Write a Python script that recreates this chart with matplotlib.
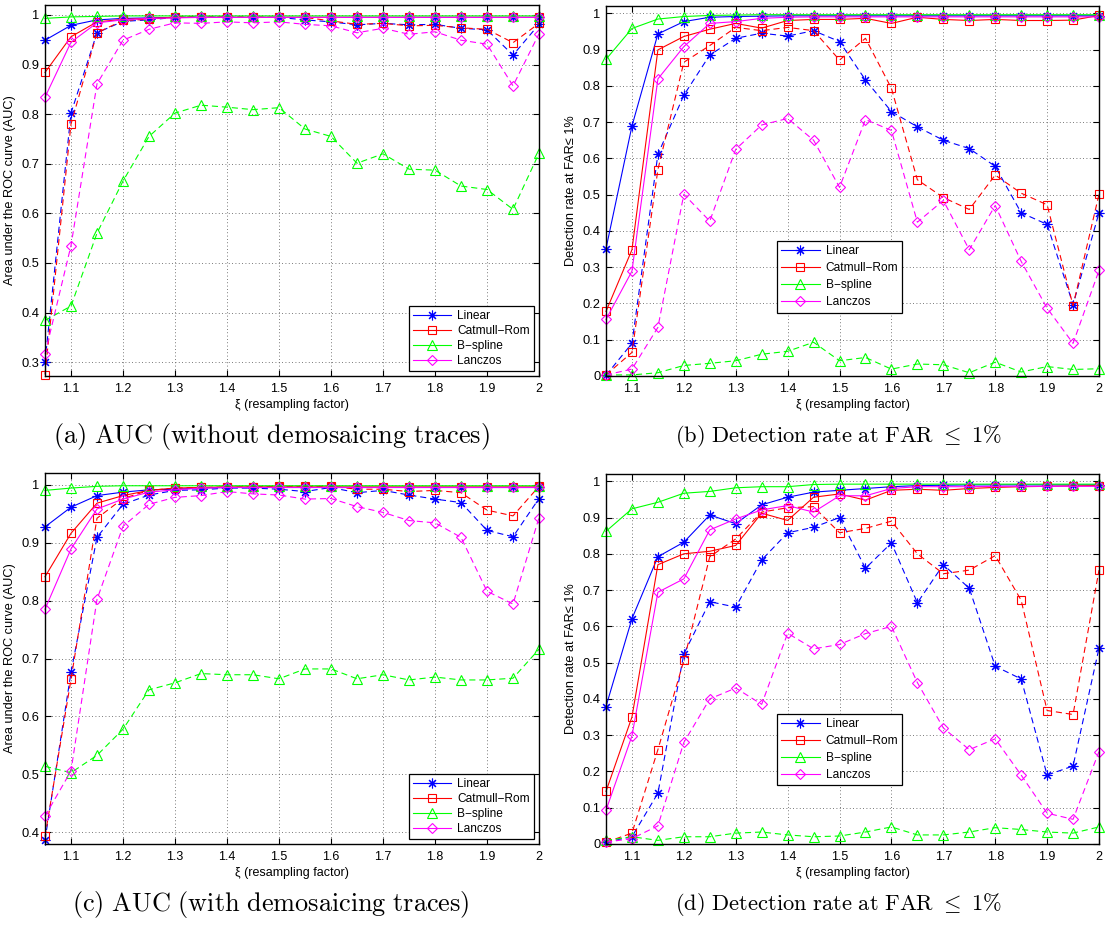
import matplotlib
matplotlib.use("Agg")
import matplotlib.pyplot as plt
from matplotlib.lines import Line2D

plt.rcParams['font.family'] = ['Liberation Sans', 'DejaVu Sans']
plt.rcParams['mathtext.fontset'] = 'cm'

# resampling factors
xi = [1.05, 1.10, 1.15, 1.20, 1.25, 1.30, 1.35, 1.40, 1.45, 1.50,
      1.55, 1.60, 1.65, 1.70, 1.75, 1.80, 1.85, 1.90, 1.95, 2.00]

methods = ['Linear', 'Catmull\u2212Rom', 'B\u2212spline', 'Lanczos']

# (a) AUC, without demosaicing traces -- solid / dashed series
a_linear = [0.949, 0.979, 0.990, 0.993, 0.994, 0.995, 0.995, 0.995, 0.995, 0.995,
            0.995, 0.995, 0.995, 0.995, 0.995, 0.995, 0.995, 0.995, 0.995, 0.995]
a_catmull = [0.884, 0.956, 0.986, 0.991, 0.993, 0.995, 0.995, 0.995, 0.995, 0.995,
             0.995, 0.995, 0.995, 0.995, 0.995, 0.995, 0.995, 0.995, 0.995, 0.995]
a_bspline = [0.993, 0.996, 0.997, 0.998, 0.998, 0.998, 0.998, 0.998, 0.998, 0.998,
             0.998, 0.998, 0.998, 0.998, 0.998, 0.998, 0.998, 0.998, 0.998, 0.998]
a_lanczos = [0.834, 0.945, 0.984, 0.990, 0.993, 0.994, 0.995, 0.995, 0.995, 0.995,
             0.995, 0.995, 0.995, 0.995, 0.995, 0.995, 0.995, 0.995, 0.995, 0.995]
a_linear_d = [0.300, 0.802, 0.964, 0.987, 0.990, 0.995, 0.996, 0.995, 0.995, 0.995,
              0.990, 0.986, 0.980, 0.983, 0.980, 0.981, 0.973, 0.970, 0.919, 0.981]
a_catmull_d = [0.275, 0.780, 0.964, 0.989, 0.991, 0.996, 0.996, 0.996, 0.996, 0.995,
               0.995, 0.988, 0.981, 0.983, 0.978, 0.979, 0.974, 0.971, 0.944, 0.983]
a_bspline_d = [0.384, 0.413, 0.560, 0.665, 0.755, 0.802, 0.818, 0.814, 0.809, 0.813,
               0.770, 0.755, 0.701, 0.720, 0.689, 0.687, 0.655, 0.648, 0.608, 0.721]
a_lanczos_d = [0.316, 0.535, 0.861, 0.949, 0.971, 0.984, 0.983, 0.986, 0.984, 0.986,
               0.981, 0.978, 0.964, 0.973, 0.961, 0.966, 0.949, 0.941, 0.857, 0.962]

# (b) detection rate at FAR <= 1 %, without demosaicing traces
b_linear = [0.351, 0.689, 0.943, 0.977, 0.989, 0.991, 0.992, 0.993, 0.993, 0.993,
            0.993, 0.993, 0.993, 0.993, 0.993, 0.993, 0.993, 0.993, 0.993, 0.993]
b_catmull = [0.178, 0.348, 0.899, 0.936, 0.956, 0.972, 0.959, 0.980, 0.983, 0.983,
             0.986, 0.972, 0.989, 0.983, 0.980, 0.983, 0.980, 0.980, 0.981, 0.994]
b_bspline = [0.873, 0.958, 0.984, 0.991, 0.994, 0.995, 0.996, 0.996, 0.996, 0.996,
             0.996, 0.996, 0.996, 0.996, 0.996, 0.996, 0.996, 0.996, 0.996, 0.996]
b_lanczos = [0.156, 0.289, 0.819, 0.908, 0.972, 0.977, 0.986, 0.989, 0.990, 0.990,
             0.990, 0.990, 0.990, 0.990, 0.990, 0.990, 0.990, 0.990, 0.990, 0.990]
b_linear_d = [0.002, 0.090, 0.611, 0.774, 0.885, 0.931, 0.945, 0.937, 0.952, 0.922,
              0.816, 0.729, 0.687, 0.650, 0.627, 0.578, 0.450, 0.418, 0.197, 0.450]
b_catmull_d = [0.003, 0.065, 0.569, 0.865, 0.911, 0.961, 0.952, 0.961, 0.952, 0.871,
               0.931, 0.793, 0.541, 0.492, 0.459, 0.554, 0.504, 0.472, 0.194, 0.501]
b_bspline_d = [0.003, 0.003, 0.009, 0.029, 0.035, 0.042, 0.060, 0.068, 0.093, 0.042,
               0.051, 0.019, 0.033, 0.031, 0.009, 0.038, 0.011, 0.026, 0.018, 0.020]
b_lanczos_d = [0.003, 0.019, 0.134, 0.501, 0.427, 0.625, 0.692, 0.710, 0.650, 0.520,
               0.707, 0.677, 0.424, 0.484, 0.348, 0.470, 0.316, 0.187, 0.090, 0.291]

# (c) AUC, with demosaicing traces
c_linear = [0.927, 0.961, 0.981, 0.987, 0.991, 0.992, 0.994, 0.995, 0.995, 0.995,
            0.995, 0.995, 0.995, 0.995, 0.995, 0.995, 0.995, 0.995, 0.995, 0.995]
c_catmull = [0.841, 0.916, 0.968, 0.981, 0.990, 0.994, 0.995, 0.996, 0.996, 0.996,
             0.996, 0.996, 0.996, 0.996, 0.996, 0.996, 0.996, 0.996, 0.996, 0.996]
c_bspline = [0.990, 0.994, 0.997, 0.998, 0.998, 0.998, 0.998, 0.998, 0.998, 0.998,
             0.998, 0.998, 0.998, 0.998, 0.998, 0.998, 0.998, 0.998, 0.998, 0.998]
c_lanczos = [0.785, 0.889, 0.958, 0.975, 0.987, 0.991, 0.994, 0.995, 0.995, 0.995,
             0.995, 0.995, 0.995, 0.995, 0.995, 0.995, 0.995, 0.995, 0.995, 0.995]
c_linear_d = [0.387, 0.676, 0.909, 0.966, 0.982, 0.990, 0.991, 0.994, 0.994, 0.992,
              0.988, 0.995, 0.986, 0.990, 0.982, 0.975, 0.969, 0.921, 0.910, 0.976]
c_catmull_d = [0.393, 0.664, 0.942, 0.976, 0.990, 0.994, 0.995, 0.996, 0.996, 0.997,
               0.997, 0.997, 0.992, 0.992, 0.988, 0.990, 0.986, 0.956, 0.946, 0.997]
c_bspline_d = [0.514, 0.503, 0.533, 0.578, 0.646, 0.658, 0.674, 0.672, 0.672, 0.665,
               0.682, 0.682, 0.665, 0.672, 0.663, 0.668, 0.663, 0.663, 0.666, 0.716]
c_lanczos_d = [0.428, 0.506, 0.802, 0.928, 0.966, 0.978, 0.981, 0.988, 0.984, 0.982,
               0.975, 0.976, 0.962, 0.952, 0.938, 0.934, 0.909, 0.816, 0.794, 0.943]

# (d) detection rate at FAR <= 1 %, with demosaicing traces
d_linear = [0.379, 0.621, 0.792, 0.832, 0.907, 0.883, 0.935, 0.956, 0.970, 0.975,
            0.980, 0.985, 0.988, 0.989, 0.990, 0.990, 0.990, 0.990, 0.990, 0.990]
d_catmull = [0.145, 0.350, 0.770, 0.800, 0.807, 0.823, 0.912, 0.892, 0.956, 0.965,
             0.948, 0.975, 0.978, 0.975, 0.980, 0.983, 0.985, 0.986, 0.987, 0.988]
d_bspline = [0.862, 0.924, 0.942, 0.967, 0.972, 0.982, 0.985, 0.985, 0.991, 0.992,
             0.992, 0.992, 0.992, 0.992, 0.992, 0.992, 0.992, 0.992, 0.992, 0.992]
d_lanczos = [0.093, 0.298, 0.694, 0.731, 0.866, 0.896, 0.921, 0.933, 0.915, 0.960,
             0.960, 0.980, 0.985, 0.985, 0.985, 0.986, 0.986, 0.986, 0.986, 0.986]
d_linear_d = [0.005, 0.020, 0.140, 0.524, 0.668, 0.653, 0.783, 0.858, 0.873, 0.900,
              0.760, 0.830, 0.665, 0.770, 0.705, 0.490, 0.455, 0.190, 0.215, 0.540]
d_catmull_d = [0.005, 0.030, 0.260, 0.506, 0.792, 0.841, 0.915, 0.927, 0.930, 0.858,
               0.870, 0.890, 0.800, 0.745, 0.755, 0.795, 0.672, 0.368, 0.357, 0.755]
d_bspline_d = [0.010, 0.020, 0.010, 0.020, 0.020, 0.030, 0.033, 0.025, 0.020, 0.022,
               0.033, 0.047, 0.025, 0.025, 0.033, 0.045, 0.040, 0.033, 0.030, 0.047]
d_lanczos_d = [0.005, 0.015, 0.050, 0.280, 0.400, 0.430, 0.385, 0.581, 0.538, 0.550,
               0.580, 0.600, 0.445, 0.320, 0.260, 0.290, 0.190, 0.085, 0.068, 0.255]

colors = ['#0000ff', '#ff0000', '#00ff00', '#ff00ff']
markers = [(8, 2, 0), 's', '^', 'D']
msizes = [7, 6, 6.5, 5.5]

xticks = [1.1, 1.2, 1.3, 1.4, 1.5, 1.6, 1.7, 1.8, 1.9, 2.0]
xticklabels = ['1.1', '1.2', '1.3', '1.4', '1.5', '1.6', '1.7', '1.8', '1.9', '2']

panels = [
    dict(solid=[a_linear, a_catmull, a_bspline, a_lanczos],
         dashed=[a_linear_d, a_catmull_d, a_bspline_d, a_lanczos_d],
         ylim=(0.272, 1.02), yticks=[0.3, 0.4, 0.5, 0.6, 0.7, 0.8, 0.9, 1.0],
         ylabel='Area under the ROC curve (AUC)',
         rect=[45, 5, 539, 376], legend=('lower right', None, 0.25),
         caption=r'$\mathrm{(a)\ AUC\ (without\ demosaicing\ traces)}$',
         cap_x=271, cap_size=18.9),
    dict(solid=[b_linear, b_catmull, b_bspline, b_lanczos],
         dashed=[b_linear_d, b_catmull_d, b_bspline_d, b_lanczos_d],
         ylim=(0.0, 1.02), yticks=[0, 0.1, 0.2, 0.3, 0.4, 0.5, 0.6, 0.7, 0.8, 0.9, 1.0],
         ylabel='Detection rate at FAR\u2264 1%',
         rect=[606, 6, 1099, 376], legend=('lower left', (0.335, 0.155), 0.42),
         caption=r'$\mathrm{(b)\ Detection\ rate\ at\ FAR}\ \leq\ 1\%$',
         cap_x=838, cap_size=16.2),
    dict(solid=[c_linear, c_catmull, c_bspline, c_lanczos],
         dashed=[c_linear_d, c_catmull_d, c_bspline_d, c_lanczos_d],
         ylim=(0.38, 1.02), yticks=[0.4, 0.5, 0.6, 0.7, 0.8, 0.9, 1.0],
         ylabel='Area under the ROC curve (AUC)',
         rect=[45, 473, 539, 844], legend=('lower right', None, 0.25),
         caption=r'$\mathrm{(c)\ AUC\ (with\ demosaicing\ traces)}$',
         cap_x=271, cap_size=18.9),
    dict(solid=[d_linear, d_catmull, d_bspline, d_lanczos],
         dashed=[d_linear_d, d_catmull_d, d_bspline_d, d_lanczos_d],
         ylim=(0.0, 1.02), yticks=[0, 0.1, 0.2, 0.3, 0.4, 0.5, 0.6, 0.7, 0.8, 0.9, 1.0],
         ylabel='Detection rate at FAR\u2264 1%',
         rect=[606, 474, 1099, 844], legend=('lower left', (0.335, 0.143), 0.42),
         caption=r'$\mathrm{(d)\ Detection\ rate\ at\ FAR}\ \leq\ 1\%$',
         cap_x=838, cap_size=16.2),
]

W, H = 1106, 927
fig = plt.figure(figsize=(W / 100, H / 100), dpi=100)


def fmt(v):
    s = ('%.1f' % v)
    return s[:-2] if s.endswith('.0') else s


for p in panels:
    x0, y0, x1, y1 = p['rect']
    ax = fig.add_axes([x0 / W, 1 - y1 / H, (x1 - x0) / W, (y1 - y0) / H])
    for series, ls in ((p['dashed'], '--'), (p['solid'], '-')):
        for vals, c, m, ms in zip(series, colors, markers, msizes):
            line, = ax.plot(xi, vals, color=c, marker=m, markersize=ms,
                            markerfacecolor='none', markeredgecolor=c,
                            markeredgewidth=0.8, linewidth=0.8, linestyle=ls,
                            clip_on=False)
            if ls == '--':
                line.set_dashes((5.5, 3.5))
    ax.set_xlim(1.05, 2.0)
    ax.set_ylim(*p['ylim'])
    ax.set_xticks(xticks)
    ax.set_xticklabels(xticklabels)
    ax.set_yticks(p['yticks'])
    ax.set_yticklabels([fmt(v) for v in p['yticks']])
    ax.tick_params(direction='in', top=True, right=True, length=4,
                   width=0.8, labelsize=9.3, pad=4)
    ax.tick_params(axis='x', labelsize=9, pad=5)
    ax.grid(True, linestyle=(0, (1, 3)), color='0.3', linewidth=0.6)
    for s in ax.spines.values():
        s.set_linewidth(1.0)
    ax.set_xlabel('\u03be (resampling factor)', fontsize=9, labelpad=3)
    ax.set_ylabel(p['ylabel'], fontsize=9.2, labelpad=4)

    handles = [Line2D([], [], color=c, marker=m, markersize=ms,
                      markerfacecolor='none', markeredgecolor=c,
                      markeredgewidth=0.8, linewidth=0.8)
               for c, m, ms in zip(colors, markers, msizes)]
    loc, anchor, spacing = p['legend']
    kw = dict(loc=loc, fontsize=8.6, handlelength=3.2, handletextpad=0.5,
              borderpad=0.35, labelspacing=spacing, fancybox=False,
              framealpha=1, edgecolor='black')
    if anchor is not None:
        kw['bbox_to_anchor'] = anchor
    else:
        kw['borderaxespad'] = 0.4
    leg = ax.legend(handles, methods, **kw)
    leg.get_frame().set_linewidth(0.9)

    cy = 1 - (y1 + 61) / H
    fig.text(p['cap_x'] / W, cy, p['caption'], ha='center', va='center',
             fontsize=p['cap_size'])

fig.savefig('out.png', dpi=100)
